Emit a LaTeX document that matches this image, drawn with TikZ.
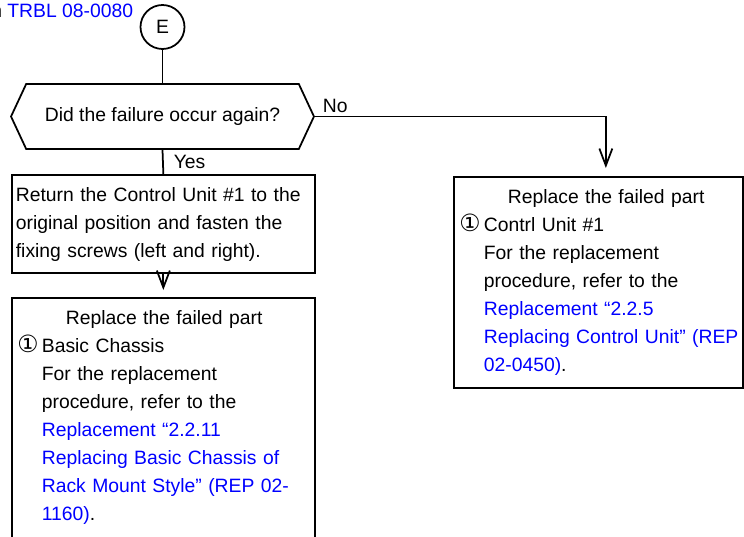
\documentclass[tikz,border=0pt]{standalone}
\usepackage{fontspec}
\setmainfont{Liberation Sans}
\newfontfamily\symfont{DejaVu Sans}
\usetikzlibrary{arrows.meta,shapes.symbols,positioning}

\begin{document}
\begin{tikzpicture}[x=0.02cm,y=-0.02cm,line width=1pt,
  >={Straight Barb[length=0.34cm,width=0.26cm]},
  every node/.style={font=\fontsize{11pt}{15.9pt}\selectfont},
  stepbox/.style={draw,rectangle,align=left,inner xsep=0.08cm,inner ysep=0pt,text height=0.54cm},
  decision/.style={draw,signal,signal to=west and east,signal pointer angle=130,
    minimum width=6.06cm,minimum height=1.3cm,inner sep=0pt},
  link/.style={blue}]
% #1 = text of the numbered item
\newcommand{\itemone}[1]{\makebox[0.52cm][l]{\hspace{0.03cm}\symfont\fontsize{13.5pt}{15.9pt}\selectfont ①}#1}
\useasboundingbox (0,0) rectangle (744,537);
% ---------- entry point and question ----------
\node[anchor=base east,inner sep=0pt] (ref) at (134,18) {n \textcolor{blue}{TRBL 08-0080}};
\node[draw,circle,minimum size=0.88cm,inner sep=0pt] (start) at (162.5,27) {E};
\node[decision] (dec) at (162.5,116.5) {Did the failure occur again?};
% ---------- Yes branch ----------
\node[stepbox,text width=5.9cm,text depth=1.42cm,anchor=north west] (fix) at (11,174)
  {Return the Control Unit \#1 to the\\
   original position and fasten the\\
   fixing screws (left and right).};
\node[stepbox,text width=5.9cm,text depth=4.72cm,anchor=north west] (chassis) at (11,297)
  {\hspace*{1cm}Replace the failed part\\
   \itemone{Basic Chassis}\\
   \hspace*{0.52cm}For the replacement\\
   \hspace*{0.52cm}procedure, refer to the\\
   \hspace*{0.52cm}\textcolor{blue}{Replacement “2.2.11}\\
   \hspace*{0.52cm}\textcolor{blue}{Replacing Basic Chassis of}\\
   \hspace*{0.52cm}\textcolor{blue}{Rack Mount Style” (REP 02-}\\
   \hspace*{0.52cm}\textcolor{blue}{1160)}.};
% ---------- No branch ----------
\node[stepbox,text width=5.62cm,text depth=3.68cm,anchor=north west] (unit) at (453,176)
  {\hspace*{1cm}Replace the failed part\\
   \itemone{Contrl Unit \#1}\\
   \hspace*{0.52cm}For the replacement\\
   \hspace*{0.52cm}procedure, refer to the\\
   \hspace*{0.52cm}\textcolor{blue}{Replacement “2.2.5}\\
   \hspace*{0.52cm}\textcolor{blue}{Replacing Control Unit” (REP}\\
   \hspace*{0.52cm}\textcolor{blue}{02-0450)}.};
% ---------- connectors ----------
\draw (start.south) -- (dec.north);
\draw (dec.south) -- node[anchor=west,inner sep=0pt,xshift=0.2cm] {Yes} (fix.north);
\draw[->,shorten >=0.14cm] (fix.south) -- (chassis.north);
\draw[->,shorten >=0.16cm] (dec.east)
  node[anchor=base west,inner sep=0pt,xshift=0.14cm,yshift=0.08cm] {No}
  -| ([xshift=0.15cm]unit.north);
\end{tikzpicture}
\end{document}
